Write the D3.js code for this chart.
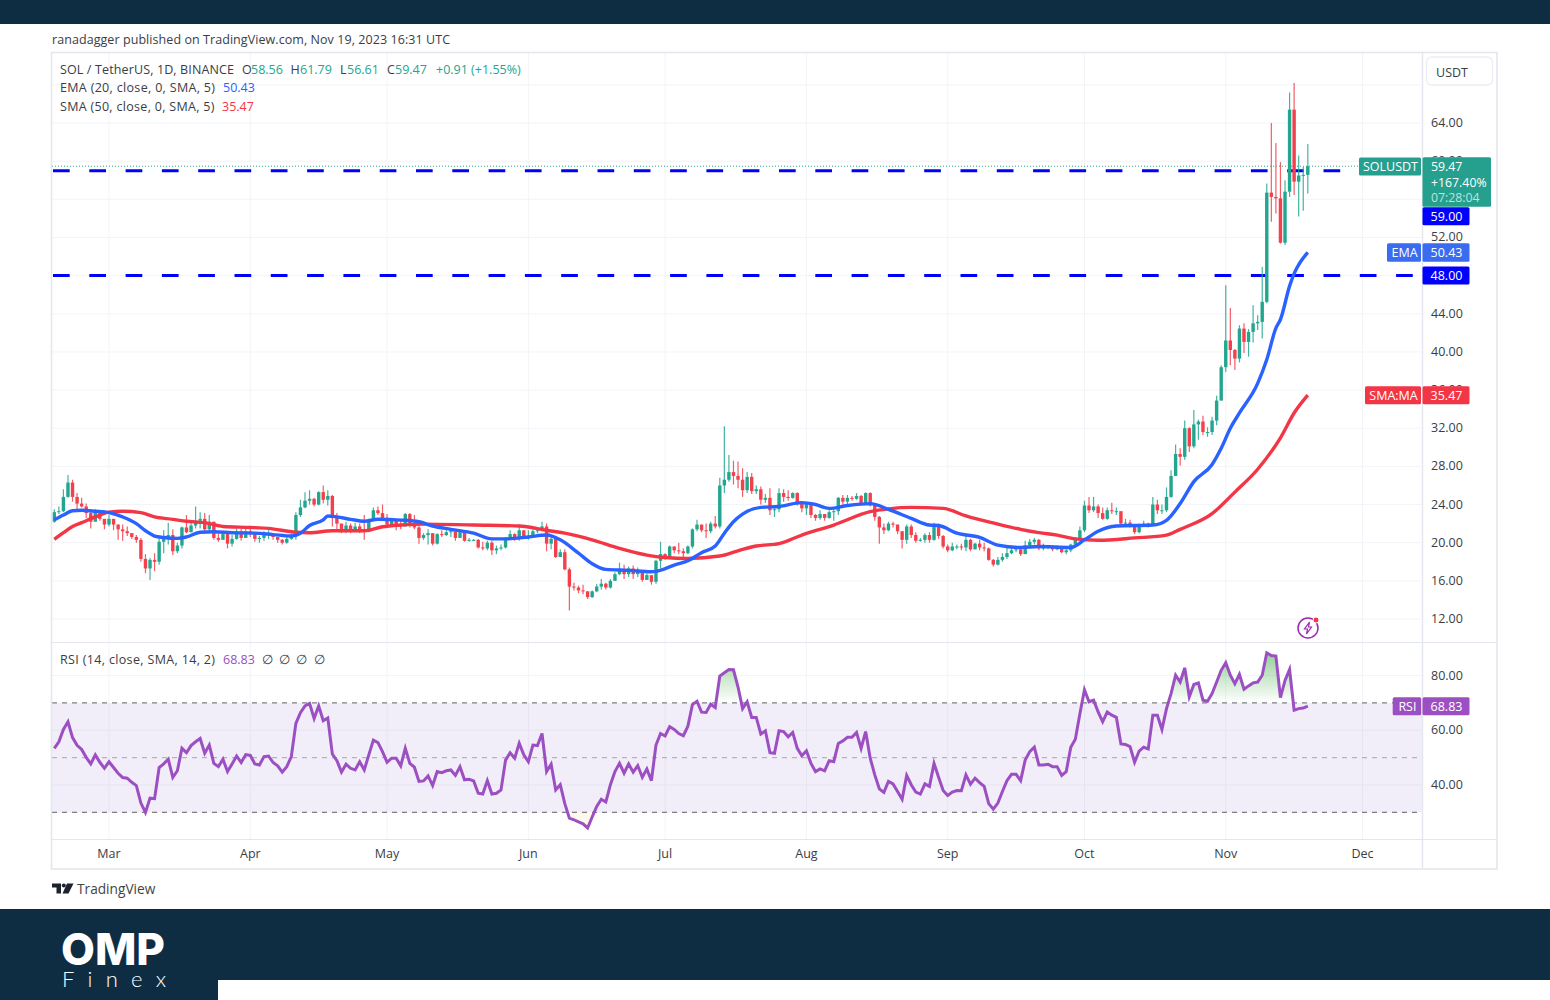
<!DOCTYPE html>
<html>
<head>
<meta charset="utf-8">
<style>
html, body { margin: 0; padding: 0; background: #fff; }
svg { display: block; }
text { font-family: "Open Sans", "Noto Sans", sans-serif; }
.axis path, .axis line { display: none; }
.axis text { font-family: "Open Sans", "Noto Sans", sans-serif; font-size: 12.5px; fill: #3a3d46; }
</style>
<script src="https://cdn.jsdelivr.net/npm/d3@7"></script>
</head>
<body>
<div id="chart"></div>
<script>
// daily candles, Feb 17 2023 to Nov 19 2023
var firstDay = [2023, 1, 17];

var opens = [
    22.2,23.2,23.3,24.8,26.3,24.8,24.1,23.8,23.1,22.2,23.4,22.5,
    21.9,22.5,21.9,21.4,21.2,21.0,20.6,20.3,18.3,17.3,18.2,18.0,20.1,20.4,20.8,19.1,19.7,21.6,21.1,21.8,22.3,22.5,21.4,22.2,20.5,20.3,20.9,19.9,20.4,21.2,20.5,
    21.2,20.9,20.4,20.5,20.8,20.9,20.6,20.3,20.0,20.4,20.8,22.9,23.7,24.4,24.6,24.0,25.3,24.5,24.9,22.6,22.0,21.2,21.8,21.2,21.7,21.3,21.2,22.4,23.4,23.1,
    22.6,21.9,22.3,21.9,21.7,23.0,21.9,21.6,20.5,20.8,21.0,19.9,20.9,20.8,21.1,21.2,20.5,21.1,20.2,20.3,20.3,19.5,19.4,20.0,19.2,19.4,19.5,20.5,20.9,20.4,21.3,
    20.6,20.6,21.2,21.3,21.7,19.9,20.4,18.5,19.0,17.2,15.4,15.3,15.0,14.9,14.3,14.9,15.4,15.7,15.3,16.0,16.7,17.2,16.7,17.3,16.7,17.1,16.1,16.6,15.9,18.1,
    18.8,18.5,19.6,19.2,19.1,18.9,19.6,21.4,21.9,21.3,21.2,22.0,21.7,26.0,26.6,27.4,27.0,26.6,25.5,26.9,25.4,25.6,24.5,24.7,23.4,23.5,25.2,24.8,24.7,25.2,24.1,
    23.6,24.1,22.9,22.6,23.0,22.6,23.2,23.3,24.7,24.3,24.7,24.6,24.9,24.1,25.2,23.9,22.7,21.6,21.3,22.0,21.9,21.2,20.3,21.7,20.8,20.2,20.3,20.8,20.3,21.9,20.7,
    19.6,19.2,19.6,19.6,19.5,20.3,19.3,19.9,19.5,19.4,18.2,17.7,18.2,18.5,18.9,19.2,19.3,18.8,19.7,20.1,20.3,19.4,19.5,19.6,19.3,19.5,19.0,19.2,19.8,20.4,
    21.3,23.9,23.4,23.8,23.1,22.5,23.4,23.3,23.3,22.0,22.1,21.9,21.1,21.8,22.0,21.9,24.0,23.4,23.4,24.8,27.0,29.3,29.0,32.0,30.1,32.4,32.7,31.6,31.6,32.8,34.9,
    38.4,41.2,40.2,39.3,42.45,41.05,42.1,43.0,43.15,45.25,56.7,56.25,56.1,51.45,56.8,65.4,57.85,58.5,58.56
];
var highs = [
    23.5,23.8,25.6,27.1,26.6,25.2,24.7,24.1,23.4,23.5,23.4,22.3,
    22.9,22.5,21.9,21.9,21.7,21.0,20.8,20.5,18.8,18.4,18.9,20.5,21.3,22.1,21.4,20.0,21.7,22.9,22.3,23.8,23.2,23.1,22.9,22.2,20.9,21.1,21.1,20.8,21.5,21.5,21.5,
    21.5,21.0,20.7,21.2,21.3,20.9,20.6,20.4,20.6,21.0,23.2,24.5,25.3,25.5,24.7,25.4,26.0,25.5,25.0,23.1,22.0,22.2,22.0,22.1,22.0,22.9,22.5,23.7,23.8,24.0,
    23.0,22.5,22.4,22.4,23.1,23.1,22.9,21.8,21.0,21.4,21.0,21.0,21.3,21.3,21.5,21.0,21.3,21.2,20.5,20.4,20.4,20.1,20.2,20.2,19.7,19.8,20.6,21.3,21.0,21.9,21.3,
    21.3,21.4,21.6,22.2,22.0,20.7,20.5,19.3,19.3,17.4,15.8,15.5,15.6,14.9,15.0,15.7,16.2,15.8,16.2,16.9,17.9,17.7,17.5,17.6,17.4,17.0,16.8,16.4,18.2,20.1,
    18.9,19.7,19.6,20.0,19.4,19.7,21.5,22.4,21.9,22.0,22.2,22.8,26.8,32.2,29.2,28.6,28.5,27.8,27.4,27.3,26.0,25.9,25.1,25.7,23.8,25.7,25.6,25.5,25.3,25.3,24.0,
    24.2,23.9,23.0,23.4,23.0,23.4,23.5,24.8,25.0,25.0,24.9,25.2,25.0,25.3,25.3,23.9,22.8,22.0,22.2,22.2,21.9,21.2,21.9,21.9,21.1,20.5,21.0,21.1,22.1,22.0,20.8,
    19.8,20.0,19.8,19.9,20.8,20.4,20.0,20.3,20.0,19.5,18.3,18.5,18.9,19.5,19.7,19.6,19.4,20.2,20.4,20.5,20.4,19.9,19.7,19.6,19.7,19.4,19.4,19.9,20.6,21.7,
    24.4,24.8,24.8,24.0,23.7,23.7,24.2,23.7,23.3,22.5,22.4,21.9,22.0,22.3,22.1,24.8,24.5,24.0,25.8,27.6,30.3,29.9,32.8,32.1,33.9,32.9,33.3,32.1,33.2,35.4,38.6,
    47.0,44.6,40.3,42.8,43.0,42.4,44.9,43.85,48.9,57.65,64.0,61.9,59.9,58.0,67.2,68.2,60.6,59.4,61.79
];
var lows = [
    22.1,23.0,23.2,24.7,24.3,23.3,23.7,22.6,21.5,22.2,22.3,21.4,
    21.7,21.3,20.3,20.2,20.7,20.4,20.0,18.0,16.8,16.1,17.0,17.7,18.9,19.8,18.7,18.9,19.4,21.0,21.1,21.5,21.5,21.0,21.2,20.3,20.1,20.4,19.4,19.6,20.3,20.2,20.5,
    20.6,20.1,20.0,20.2,20.4,20.3,20.0,19.8,19.9,20.3,20.3,22.7,23.6,24.0,23.8,23.9,24.1,23.9,21.7,21.3,21.0,21.0,21.0,21.1,21.0,20.3,21.1,22.4,22.9,22.4,
    21.7,21.8,21.3,21.4,21.7,21.6,21.4,19.9,20.3,19.8,19.7,19.8,20.6,20.7,20.6,20.2,20.5,20.1,20.1,20.2,19.4,19.2,19.2,18.7,18.8,19.2,19.4,20.3,20.2,20.2,20.4,
    20.3,20.5,21.0,21.2,19.1,19.3,18.4,18.5,17.1,12.9,15.0,14.7,14.6,14.1,14.2,14.8,15.1,15.1,15.2,16.0,16.6,16.2,16.4,16.2,16.4,15.9,16.1,15.6,15.7,17.3,
    18.2,18.5,18.9,18.8,18.5,18.8,19.4,21.2,21.1,20.5,21.0,21.5,21.5,25.2,26.4,26.1,25.7,24.8,25.2,25.1,25.1,24.0,24.2,22.9,22.7,23.2,24.3,24.4,24.6,23.9,23.2,
    22.9,22.6,22.3,22.4,22.3,22.5,22.3,22.9,23.9,24.0,24.4,24.5,23.9,24.1,23.8,22.3,19.9,20.9,21.2,21.6,20.9,19.4,19.9,20.5,20.0,20.1,20.0,20.0,20.2,20.4,19.4,
    19.0,19.1,19.3,19.2,19.1,19.1,19.3,19.2,19.1,18.1,17.5,17.6,18.0,18.3,18.8,19.0,18.6,18.9,19.5,19.8,19.2,19.2,19.3,19.1,19.2,18.9,18.8,19.0,19.6,20.3,
    21.1,23.1,23.2,22.6,22.4,22.4,23.0,22.9,21.8,21.7,21.6,20.9,21.0,21.7,21.6,21.8,23.0,23.0,23.2,24.7,27.0,28.1,28.7,29.5,29.9,30.8,31.3,31.1,31.3,32.3,34.9,
    37.9,38.6,38.1,38.9,39.9,39.5,41.0,42.3,41.4,45.1,53.65,54.5,51.35,51.2,56.25,56.45,54.2,54.8,56.61
];
var closes = [
    23.2,23.3,24.8,26.3,24.8,24.1,23.8,23.1,22.2,23.4,22.5,21.9,
    22.5,21.9,21.4,21.2,21.0,20.6,20.3,18.3,17.3,18.2,18.0,20.1,20.4,20.8,19.1,19.7,21.6,21.1,21.8,22.3,22.5,21.4,22.2,20.5,20.3,20.9,19.9,20.4,21.2,20.5,21.2,
    20.9,20.4,20.5,20.8,20.9,20.6,20.3,20.0,20.4,20.8,22.9,23.7,24.4,24.6,24.0,25.3,24.5,24.9,22.6,22.0,21.2,21.8,21.2,21.7,21.3,21.2,22.4,23.4,23.1,22.6,
    21.9,22.3,21.9,21.7,23.0,21.9,21.6,20.5,20.8,21.0,19.9,20.9,20.8,21.1,21.2,20.5,21.1,20.2,20.3,20.3,19.5,19.4,20.0,19.2,19.4,19.5,20.5,20.9,20.4,21.3,20.6,
    20.6,21.2,21.3,21.7,19.9,20.4,18.5,19.0,17.2,15.4,15.3,15.0,14.9,14.3,14.9,15.4,15.7,15.3,16.0,16.7,17.2,16.7,17.3,16.7,17.1,16.1,16.6,15.9,18.1,18.8,
    18.5,19.6,19.2,19.1,18.9,19.6,21.4,21.9,21.3,21.2,22.0,21.7,26.0,26.6,27.4,27.0,26.6,25.5,26.9,25.4,25.6,24.5,24.7,23.4,23.5,25.2,24.8,24.7,25.2,24.1,23.6,
    24.1,22.9,22.6,23.0,22.6,23.2,23.3,24.7,24.3,24.7,24.6,24.9,24.1,25.2,23.9,22.7,21.6,21.3,22.0,21.9,21.2,20.3,21.7,20.8,20.2,20.3,20.8,20.3,21.9,20.7,19.6,
    19.2,19.6,19.6,19.5,20.3,19.3,19.9,19.5,19.4,18.2,17.7,18.2,18.5,18.9,19.2,19.3,18.8,19.7,20.1,20.3,19.4,19.5,19.6,19.3,19.5,19.0,19.2,19.8,20.4,21.3,
    23.9,23.4,23.8,23.1,22.5,23.4,23.3,23.3,22.0,22.1,21.9,21.1,21.8,22.0,21.9,24.0,23.4,23.4,24.8,27.0,29.3,29.0,32.0,30.1,32.4,32.7,31.6,31.6,32.8,34.9,38.4,
    41.2,40.2,39.3,42.45,41.05,42.1,43.0,43.15,45.25,56.7,56.25,56.1,51.45,56.8,65.4,57.85,58.5,58.56,59.47
];

// moving averages, day number from firstDay and value
var emaDays = [0,2,4,6,9,12,15,18,20,22,24,27,29,32,35,39,44,48,52,54,56,59,60,62,65,68,71,76,80,83,87,92,96,99,104,108,111,115,118,121,126,131,132,136,139,142,145,147,149,151,155,159,164,167,170,174,179,183,188,192,194,198,203,207,212,216,223,226,229,233,241,244,247,250,254,256,258,260,264,266,268,269,271,272,275];
var emaValues = [22.4,22.9,23.35,23.4,23.3,23.15,22.7,22.0,21.25,20.7,20.55,20.45,20.6,21.1,21.15,21.05,21.0,20.85,20.7,21.0,21.8,22.4,22.8,22.7,22.45,22.25,22.45,22.37,22.2,21.75,21.4,21.0,20.4,20.4,20.6,20.8,20.3,18.9,17.8,17.2,17.1,16.95,17.0,17.65,18.1,18.95,19.65,21.0,22.2,23.0,23.7,23.8,24.2,24.0,23.6,23.9,24.1,23.5,22.55,21.85,21.8,21.0,20.55,19.75,19.5,19.6,19.5,20.3,21.2,21.75,21.85,22.35,24.1,26.4,28.2,29.9,32.0,33.6,36.7,39.2,42.5,43.4,46.9,48.2,50.43];
var smaDays = [0,2,4,6,9,12,15,19,22,26,29,33,37,43,47,53,56,61,68,72,76,81,92,102,108,112,118,124,130,134,139,146,150,154,159,164,171,179,183,188,195,200,207,212,216,220,224,229,237,244,247,254,259,264,269,272,275];
var smaValues = [20.35,21.05,21.7,22.1,22.7,23.2,23.3,23.15,22.7,22.45,22.25,22.1,21.7,21.6,21.5,21.1,21.05,21.25,21.25,21.67,21.85,21.95,21.85,21.75,21.3,21.0,20.3,19.4,18.7,18.45,18.35,18.6,19.15,19.65,19.9,20.8,21.85,23.25,23.55,23.7,23.6,22.8,21.95,21.4,21.05,20.8,20.4,20.25,20.5,20.8,21.4,23.05,25.3,27.7,31.0,33.6,35.47];

var rsiValues = [
    53.4,55.8,60.3,63.1,57.3,54.5,53.0,50.1,47.7,51.0,48.3,46.1,
    48.5,46.4,44.3,42.7,42.5,41.0,39.8,33.4,30.0,35.2,35.0,46.4,47.7,49.4,42.8,45.2,53.4,51.8,54.4,55.8,57.0,51.6,54.6,47.9,46.7,49.4,44.9,47.7,50.6,48.2,51.1,
    50.8,47.7,47.3,50.4,50.6,48.2,47.0,44.7,46.7,50.4,62.5,66.4,68.9,69.8,64.3,68.9,63.5,64.5,51.3,48.9,44.7,47.6,46.1,45.5,48.5,45.5,51.0,56.4,55.5,52.2,
    48.3,49.8,49.8,47.0,53.4,47.9,46.5,41.3,41.5,43.3,39.8,44.9,44.5,45.2,45.5,43.5,46.7,41.9,42.1,41.5,37.0,36.7,41.6,36.7,37.0,38.2,49.1,51.8,49.8,55.2,51.0,
    48.5,54.6,54.4,58.8,44.9,47.6,38.2,40.1,33.2,27.9,27.3,26.5,25.8,24.3,28.3,32.2,34.8,33.8,40.1,44.9,47.9,44.3,47.7,44.7,47.1,42.8,45.8,41.6,54.6,58.8,
    57.9,61.3,60.3,58.8,58.0,61.5,69.4,70.6,66.6,66.5,69.5,68.3,79.8,81.0,82.2,82.1,75.8,67.9,70.4,64.7,64.7,58.6,59.8,51.8,51.6,59.8,59.5,57.6,59.2,53.4,50.7,
    52.5,47.9,44.9,45.9,45.2,48.9,48.5,55.2,56.1,57.4,57.4,59.2,53.4,59.5,49.8,43.7,38.6,37.3,41.3,40.4,37.6,34.8,43.5,40.1,37.4,36.7,40.4,39.5,47.9,42.8,38.0,
    36.2,37.4,38.0,37.9,43.7,40.3,42.5,40.9,39.5,33.2,31.2,33.4,37.6,41.6,43.9,43.9,41.6,49.1,52.2,53.8,47.3,47.3,47.6,46.7,46.7,43.5,44.9,53.8,56.7,66.0,
    74.8,70.4,71.0,66.7,63.1,66.7,65.5,64.7,55.0,54.8,54.0,48.3,52.4,53.8,53.2,65.5,65.5,60.3,67.9,73.4,80.1,77.6,82.8,72.2,76.7,77.3,71.0,70.6,73.4,77.6,81.9,
    84.7,80.1,77.0,80.4,75.0,76.2,77.3,77.6,80.1,88.3,87.3,87.1,71.9,78.2,82.2,67.3,67.9,68.1,68.83
];

var priceTicks = [12, 16, 20, 24, 28, 32, 36, 40, 44, 52, 60, 64];
var priceGrid = [12, 16, 20, 24, 28, 32, 36, 40, 44, 48, 52, 56, 60, 64, 68];
var rsiTicks = [40, 60, 80];
var rsiLevels = [30, 50, 70];
var monthStarts = [[2023,2,1],[2023,3,1],[2023,4,1],[2023,5,1],[2023,6,1],[2023,7,1],[2023,8,1],[2023,9,1],[2023,10,1],[2023,11,1]];
var levels = [59, 48];

var colors = {
    dark: "#0e2d43", frame: "#e4e6ee", grid: "#f3f4f8", text: "#3a3d46",
    up: "#22a68f", down: "#f2404c", ema: "#2962ff", sma: "#f23645",
    level: "#0000ff", rsi: "#9c4fc2", tagGreen: "#26a08e", tagEma: "#3a6cf0"
};

function dayDate(i) {
    return new Date(Date.UTC(firstDay[0], firstDay[1], firstDay[2] + i));
}

var days = d3.range(closes.length);
var months = monthStarts.map(function(d){ return new Date(Date.UTC(d[0], d[1], d[2])); });

var svg = d3.select("#chart").append("svg")
    .attr("width", 1550)
    .attr("height", 1000);

var pane = {left: 52, right: 1422, top: 53, split: 642, rsiBottom: 839, bottom: 869, outer: 1497};

var x = d3.scaleUtc()
    .domain([dayDate(0), months[9]])
    .range([54.3, 1362.5]);
var y = d3.scaleLinear().domain([12, 64]).range([619, 123]);
var yRsi = d3.scaleLinear().domain([80, 40]).range([675.5, 785]);

var defs = svg.append("defs");
defs.append("clipPath").attr("id", "main-clip").append("rect")
    .attr("x", pane.left).attr("y", pane.top)
    .attr("width", pane.right - pane.left).attr("height", pane.split - pane.top);
defs.append("clipPath").attr("id", "over-clip").append("rect")
    .attr("x", pane.left).attr("y", pane.split)
    .attr("width", pane.right - pane.left).attr("height", yRsi(70) - pane.split);
defs.append("clipPath").attr("id", "under-clip").append("rect")
    .attr("x", pane.left).attr("y", yRsi(30))
    .attr("width", pane.right - pane.left).attr("height", pane.rsiBottom - yRsi(30));

var overGrad = defs.append("linearGradient").attr("id", "over-grad")
    .attr("gradientUnits", "userSpaceOnUse")
    .attr("x1", 0).attr("x2", 0).attr("y1", yRsi(90)).attr("y2", yRsi(70));
overGrad.append("stop").attr("offset", 0).attr("stop-color", "#4caf50").attr("stop-opacity", 0.65);
overGrad.append("stop").attr("offset", 1).attr("stop-color", "#4caf50").attr("stop-opacity", 0);

// bands of the page
svg.append("rect").attr("width", 1550).attr("height", 24).attr("fill", colors.dark);
svg.append("rect").attr("y", 909).attr("width", 1550).attr("height", 91).attr("fill", colors.dark);
svg.append("rect").attr("x", 218).attr("y", 980).attr("width", 1332).attr("height", 20).attr("fill", "#fff");

// grid
var gridG = svg.append("g");
gridG.selectAll(".hgrid")
    .data(priceGrid)
    .enter().append("line")
    .attr("x1", pane.left).attr("x2", pane.right)
    .attr("y1", function(d){ return y(d); })
    .attr("y2", function(d){ return y(d); })
    .attr("stroke", colors.grid);
gridG.selectAll(".rgrid")
    .data(rsiTicks)
    .enter().append("line")
    .attr("x1", pane.left).attr("x2", pane.right)
    .attr("y1", function(d){ return yRsi(d); })
    .attr("y2", function(d){ return yRsi(d); })
    .attr("stroke", colors.grid);
gridG.selectAll(".vgrid")
    .data(months)
    .enter().append("line")
    .attr("x1", function(d){ return x(d); })
    .attr("x2", function(d){ return x(d); })
    .attr("y1", pane.top).attr("y2", pane.rsiBottom)
    .attr("stroke", colors.grid);

// rsi band
svg.append("rect")
    .attr("x", pane.left).attr("y", yRsi(70))
    .attr("width", pane.right - pane.left).attr("height", yRsi(30) - yRsi(70))
    .attr("fill", "#7e57c2").attr("fill-opacity", 0.1);
svg.selectAll(".rsi-level")
    .data(rsiLevels)
    .enter().append("line")
    .attr("x1", pane.left).attr("x2", pane.right)
    .attr("y1", function(d){ return yRsi(d); })
    .attr("y2", function(d){ return yRsi(d); })
    .attr("stroke", function(d){ return d == 50 ? "#b5b2bd" : "#7e7e86"; })
    .attr("stroke-width", 1.4)
    .attr("stroke-dasharray", "5 5");

// overbought and oversold fill
var rsiArea = function(level) {
    return d3.area()
        .x(function(i){ return x(dayDate(i)); })
        .y0(yRsi(level))
        .y1(function(i){ return yRsi(rsiValues[i]); });
};
svg.append("path").datum(days)
    .attr("clip-path", "url(#over-clip)")
    .attr("d", rsiArea(70))
    .attr("fill", "url(#over-grad)");
svg.append("path").datum(days)
    .attr("clip-path", "url(#under-clip)")
    .attr("d", rsiArea(30))
    .attr("fill", "#ff9800").attr("fill-opacity", 0.07);

svg.append("path").datum(days)
    .attr("d", d3.line()
        .x(function(i){ return x(dayDate(i)); })
        .y(function(i){ return yRsi(rsiValues[i]); }))
    .attr("fill", "none")
    .attr("stroke", colors.rsi)
    .attr("stroke-width", 3);

// horizontal levels
svg.selectAll(".level")
    .data(levels)
    .enter().append("line")
    .attr("x1", pane.left + 1).attr("x2", pane.right)
    .attr("y1", function(d){ return y(d); })
    .attr("y2", function(d){ return y(d); })
    .attr("stroke", colors.level)
    .attr("stroke-width", 3)
    .attr("stroke-dasharray", "16.7 19.6");

// last price line
svg.append("line")
    .attr("x1", pane.left).attr("x2", pane.right)
    .attr("y1", y(59.47)).attr("y2", y(59.47))
    .attr("stroke", colors.up)
    .attr("stroke-dasharray", "1 2");

// candles
var candleG = svg.append("g").attr("clip-path", "url(#main-clip)");
var candle = candleG.selectAll(".candle")
    .data(days)
    .enter().append("g");
candle.append("line")
    .attr("x1", function(i){ return x(dayDate(i)); })
    .attr("x2", function(i){ return x(dayDate(i)); })
    .attr("y1", function(i){ return y(highs[i]); })
    .attr("y2", function(i){ return y(lows[i]); })
    .attr("stroke", function(i){ return closes[i] >= opens[i] ? colors.up : colors.down; })
    .attr("stroke-width", 1.2)
    .attr("stroke-opacity", 0.85);
candle.append("rect")
    .attr("x", function(i){ return x(dayDate(i)) - 1.7; })
    .attr("width", 3.4)
    .attr("y", function(i){ return y(Math.max(opens[i], closes[i])); })
    .attr("height", function(i){ return Math.max(1, Math.abs(y(opens[i]) - y(closes[i]))); })
    .attr("fill", function(i){ return closes[i] >= opens[i] ? colors.up : colors.down; });

// moving averages
function maLine(dayList, values) {
    return d3.line()
        .x(function(d, k){ return x(dayDate(dayList[k])); })
        .y(function(d){ return y(d); })
        .curve(d3.curveMonotoneX)(values);
}
candleG.append("path")
    .attr("d", maLine(smaDays, smaValues))
    .attr("fill", "none").attr("stroke", colors.sma).attr("stroke-width", 3.4);
candleG.append("path")
    .attr("d", maLine(emaDays, emaValues))
    .attr("fill", "none").attr("stroke", colors.ema).attr("stroke-width", 3.4);

// frame
var frameG = svg.append("g").attr("stroke", colors.frame).attr("fill", "none");
frameG.append("rect")
    .attr("x", pane.left - 0.5).attr("y", 52.5)
    .attr("width", pane.outer - pane.left + 0.5).attr("height", pane.bottom - 52.5)
    .attr("stroke-width", 1.6);
frameG.append("line").attr("x1", pane.left).attr("x2", pane.outer).attr("y1", pane.split + 0.5).attr("y2", pane.split + 0.5);
frameG.append("line").attr("x1", pane.left).attr("x2", pane.outer).attr("y1", pane.rsiBottom + 0.5).attr("y2", pane.rsiBottom + 0.5);
frameG.append("line").attr("x1", pane.right + 0.5).attr("x2", pane.right + 0.5).attr("y1", pane.top).attr("y2", pane.bottom).attr("stroke-width", 1.4);

// axes
svg.append("g")
    .attr("class", "axis")
    .attr("transform", "translate(" + (pane.right + 6) + ",-0.5)")
    .call(d3.axisRight(y).tickValues(priceTicks).tickSize(0).tickFormat(d3.format(".2f")));
svg.append("g")
    .attr("class", "axis")
    .attr("transform", "translate(" + (pane.right + 6) + ",-0.5)")
    .call(d3.axisRight(yRsi).tickValues(rsiTicks).tickSize(0).tickFormat(d3.format(".2f")));
svg.append("g")
    .attr("class", "axis")
    .attr("transform", "translate(-0.5," + (pane.rsiBottom + 7.5) + ")")
    .call(d3.axisBottom(x).tickValues(months).tickSize(0).tickFormat(d3.utcFormat("%b")));

// tags on the right
function tag(x0, w, yMid, h, fill, label) {
    svg.append("rect")
        .attr("x", x0).attr("y", yMid - h / 2)
        .attr("width", w).attr("height", h)
        .attr("rx", 1.5)
        .attr("fill", fill);
    svg.append("text")
        .attr("x", x0 + w / 2 + 0.5).attr("y", yMid + 4.4)
        .attr("text-anchor", "middle")
        .attr("font-size", 12.5)
        .attr("fill", "#fff")
        .text(label);
}
svg.append("rect")
    .attr("x", 1422.5).attr("y", 157.3)
    .attr("width", 68.5).attr("height", 49.5)
    .attr("rx", 1.5)
    .attr("fill", colors.tagGreen);
svg.selectAll(".last-text")
    .data([["59.47", 171, "#fff"], ["+167.40%", 187, "#fff"], ["07:28:04", 202, "#bfe3dc"]])
    .enter().append("text")
    .attr("x", 1431)
    .attr("y", function(d){ return d[1]; })
    .attr("font-size", 12.3)
    .attr("fill", function(d){ return d[2]; })
    .text(function(d){ return d[0]; });
tag(1359, 62, y(59.47) + 0.2, 18, colors.tagGreen, "SOLUSDT");
tag(1422.5, 47, 216.2, 18, colors.level, "59.00");
tag(1387, 34, y(50.43), 18.5, colors.tagEma, "EMA");
tag(1422.5, 47, y(50.43), 18.5, colors.tagEma, "50.43");
tag(1422.5, 47, y(48), 18, colors.level, "48.00");
tag(1365, 56, y(35.47), 18, colors.sma, "SMA:MA");
tag(1422.5, 47, y(35.47), 18, colors.sma, "35.47");
tag(1392.7, 28.5, 706.3, 18, colors.rsi, "RSI");
tag(1422.5, 47, 706.3, 18, colors.rsi, "68.83");

// currency button
svg.append("rect")
    .attr("x", 1426.5).attr("y", 57)
    .attr("width", 66).attr("height", 28)
    .attr("rx", 5)
    .attr("fill", "#fff").attr("stroke", "#eceef3").attr("stroke-width", 1.4);
svg.append("text")
    .attr("x", 1452).attr("y", 76.5)
    .attr("text-anchor", "middle")
    .attr("font-size", 12.5)
    .attr("fill", colors.text)
    .text("USDT");

// header and legends
function label(px, py, txt, fill, len) {
    var t = svg.append("text")
        .attr("x", px).attr("y", py)
        .attr("font-size", 12.5)
        .attr("fill", fill || colors.text)
        .text(txt);
    if (len) t.attr("textLength", len);
}
label(52, 44, "ranadagger published on TradingView.com, Nov 19, 2023 16:31 UTC", null, 398);
label(60, 74, "SOL / TetherUS, 1D, BINANCE", null, 174);
label(242, 74, "O"); label(251, 74, "58.56", colors.up);
label(290.5, 74, "H"); label(300, 74, "61.79", colors.up);
label(340, 74, "L"); label(347, 74, "56.61", colors.up);
label(387, 74, "C"); label(395, 74, "59.47", colors.up);
label(436, 74, "+0.91 (+1.55%)", colors.up);
label(60, 92, "EMA (20, close, 0, SMA, 5)", null, 155);
label(223, 92, "50.43", colors.ema);
label(60, 111, "SMA (50, close, 0, SMA, 5)", null, 154.5);
label(222, 111, "35.47", colors.sma);
label(60, 664, "RSI (14, close, SMA, 14, 2)", null, 155);
label(223, 664, "68.83", colors.rsi);
[262, 279, 296, 314].forEach(function(px){ label(px, 664, "\u2205"); });

// alert icon
var icon = svg.append("g").attr("transform", "translate(1308,628)");
icon.append("circle").attr("r", 10).attr("fill", "#fff").attr("stroke", "#9c27b0").attr("stroke-width", 1.5);
icon.append("path").attr("d", "M1.5,-6 L-3.5,1 L-0.5,1 L-1.5,6 L3.5,-1 L0.5,-1 Z").attr("fill", "none").attr("stroke", "#9c27b0").attr("stroke-width", 1.2);
icon.append("circle").attr("cx", 8).attr("cy", -8).attr("r", 3).attr("fill", "#f23645").attr("stroke", "#fff");

// TradingView mark
var tv = svg.append("g").attr("transform", "translate(52,883.5)");
tv.append("path").attr("d", "M0,0 H9 V10 H4.5 V4 H0 Z").attr("fill", "#1e222d");
tv.append("circle").attr("cx", 11.8).attr("cy", 2).attr("r", 2).attr("fill", "#1e222d");
tv.append("path").attr("d", "M15,0 H21.5 L16.5,10 H10.5 Z").attr("fill", "#1e222d");
svg.append("text")
    .attr("x", 77).attr("y", 893.5)
    .attr("font-size", 13.7)
    .attr("fill", "#444")
    .text("TradingView");

// OMP Finex logo
svg.append("text")
    .attr("x", 61).attr("y", 965)
    .style("font-family", "Inter, sans-serif")
    .attr("font-size", 44)
    .attr("font-weight", 800)
    .attr("textLength", 104)
    .attr("lengthAdjust", "spacingAndGlyphs")
    .attr("fill", "#fff")
    .text("OMP");
svg.append("text")
    .attr("x", 62).attr("y", 986.5)
    .style("font-family", "Lato, sans-serif")
    .attr("font-size", 22)
    .attr("font-weight", 300)
    .attr("textLength", 104)
    .attr("fill", "#fff")
    .text("Finex");
</script>
</body>
</html>
